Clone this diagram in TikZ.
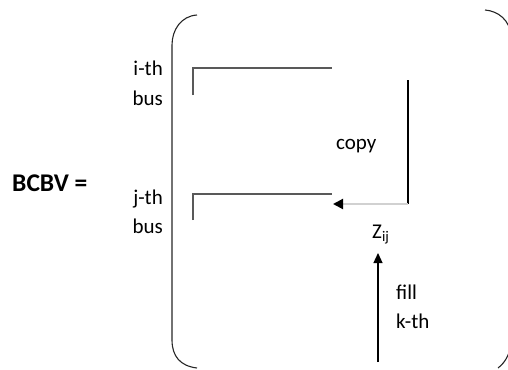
\documentclass[tikz,border=0pt]{standalone}
\usepackage{fontspec}
\setmainfont{Carlito}
\usetikzlibrary{arrows.meta}
\begin{document}
\begin{tikzpicture}[x=1pt,y=-1pt,
  lbl/.style={inner sep=0pt,font=\fontsize{21}{25}\selectfont},
  brk/.style={line width=1.1pt,black!85},
  busline/.style={line width=1.5pt,black!65},
  copyline/.style={line width=1.2pt,black},
  copyarrow/.style={line width=2pt,black!18,-{Triangle[length=10pt,width=10pt,black]}},
  fillarrow/.style={line width=1.2pt,black,-{Triangle[length=10pt,width=9pt]}}]
\useasboundingbox (0,0) rectangle (508,369);
% brackets
\draw[brk] (197,15) .. controls (181,16) and (172,30) .. (172,45) -- (172,340) .. controls (172,356) and (180,366) .. (197,368);
\draw[brk] (485,10) .. controls (498,11) and (510,20) .. (511,36) -- (511,340) .. controls (511,352) and (506,362) .. (498,368);
% labels
\node[lbl,anchor=base west,font=\fontsize{25.5}{30}\selectfont\bfseries] (bcbv) at (12,191) {BCBV =};
\node[lbl,anchor=base east] (ith) at (163,75) {i-th};
\node[lbl,anchor=base east] (ibus) at (163,105) {bus};
\node[lbl,anchor=base east] (jth) at (163,204) {j-th};
\node[lbl,anchor=base east] (jbus) at (163,233) {bus};
\node[lbl,anchor=base west] (copy) at (336,149) {copy};
\node[lbl,anchor=base west] (zij) at (372,238) {Z\textsubscript{ij}};
\node[lbl,anchor=base west] (fill) at (396,299) {fill};
\node[lbl,anchor=base west] (kth) at (396,328) {k-th};
% bus lines
\coordinate (ia) at (193,95);
\coordinate (ib) at (193,68);
\coordinate (ic) at (332,68);
\draw[busline] (ia) -- (ib) -- (ic);
\coordinate (ja) at (193,220);
\coordinate (jb) at (193,194);
\coordinate (jc) at (332,194);
\draw[busline] (ja) -- (jb) -- (jc);
% copy path
\coordinate (ca) at (408,80);
\coordinate (cb) at (408,204);
\coordinate (cc) at (333,204);
\draw[copyline] (ca) -- (cb);
\draw[copyarrow] (cb) -- (cc);
% fill arrow
\coordinate (fa) at (378,362);
\coordinate (fb) at (378,253);
\draw[fillarrow] (fa) -- (fb);
\end{tikzpicture}
\end{document}
